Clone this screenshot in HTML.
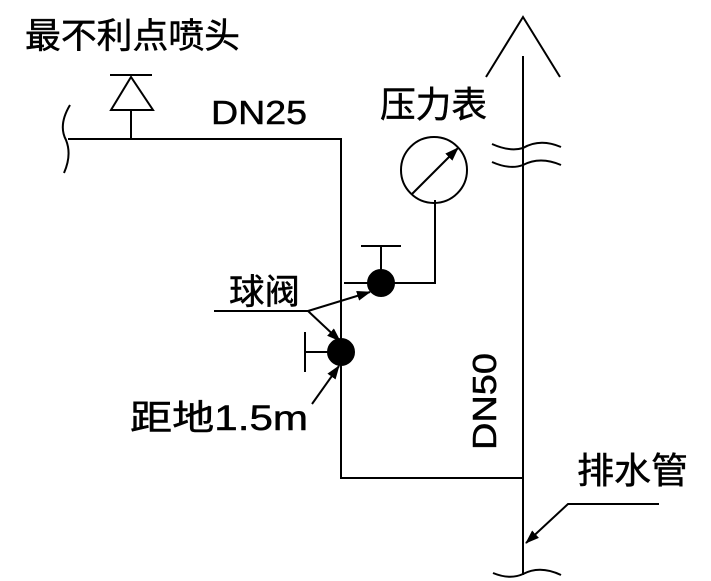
<!DOCTYPE html>
<html><head><meta charset="utf-8"><style>
body{margin:0;background:#fff;width:711px;height:581px;overflow:hidden}
svg{display:block}
text{font-family:"Liberation Sans","Noto Sans CJK SC",sans-serif;fill:#000;stroke:#000;stroke-width:0.5}
</style></head><body>
<svg width="711" height="581" viewBox="0 0 711 581">
<defs><marker id="a" markerWidth="14" markerHeight="10" refX="13" refY="5" orient="auto" markerUnits="userSpaceOnUse"><path d="M0,0 L14,5 L0,10 Z" fill="#000"/></marker></defs>
<text x="25" y="48" font-size="35" textLength="215" lengthAdjust="spacingAndGlyphs">最不利点喷头</text>
<text x="211" y="124" font-size="33" textLength="96" lengthAdjust="spacingAndGlyphs">DN25</text>
<text x="380" y="117" font-size="36" textLength="107" lengthAdjust="spacingAndGlyphs">压力表</text>
<text x="229" y="304" font-size="35" textLength="71" lengthAdjust="spacingAndGlyphs">球阀</text>
<text x="130" y="430" font-size="35" textLength="178" lengthAdjust="spacingAndGlyphs">距地1.5m</text>
<text transform="translate(496,450) rotate(-90)" font-size="33" textLength="97" lengthAdjust="spacingAndGlyphs">DN50</text>
<text x="577" y="483" font-size="36" textLength="111" lengthAdjust="spacingAndGlyphs">排水管</text>
<g stroke="#000" stroke-width="2" fill="none">
<line x1="110" y1="75" x2="152" y2="75"/>
<path d="M131,77 L111,110 L153,110 Z"/>
<line x1="131" y1="110" x2="131" y2="139"/>
<path d="M70,105 Q58,125 66,140 Q72,155 64,173"/>
<path d="M68,139 H341 V478 H523"/>
<line x1="523" y1="56" x2="523" y2="575"/>
<path d="M486,77 L523,17 L560,77"/>
<path d="M492,144 Q510,152 523,148 Q540,138 561,147"/>
<path d="M492,162 Q510,170 523,165 Q540,156 561,165"/>
<path d="M493,573 Q510,580 523,574 Q540,565 561,575"/>
<circle cx="434" cy="170" r="33"/>
<line x1="412" y1="194" x2="458" y2="148" marker-end="url(#a)"/>
<path d="M435,200 V283 H344"/>
<circle cx="381" cy="283" r="13" fill="#000"/>
<line x1="381" y1="270" x2="381" y2="246"/>
<line x1="361" y1="246" x2="401" y2="246"/>
<circle cx="341" cy="352" r="13" fill="#000"/>
<line x1="306" y1="352" x2="328" y2="352"/>
<line x1="305" y1="332" x2="305" y2="372"/>
<line x1="214" y1="311" x2="308" y2="311"/>
<line x1="308" y1="311" x2="370" y2="292" marker-end="url(#a)"/>
<line x1="308" y1="311" x2="340" y2="341" marker-end="url(#a)"/>
<line x1="312" y1="404" x2="339" y2="366" marker-end="url(#a)"/>
<path d="M659,504 H568 L526,543" marker-end="url(#a)"/>
</g>
</svg>
</body></html>
